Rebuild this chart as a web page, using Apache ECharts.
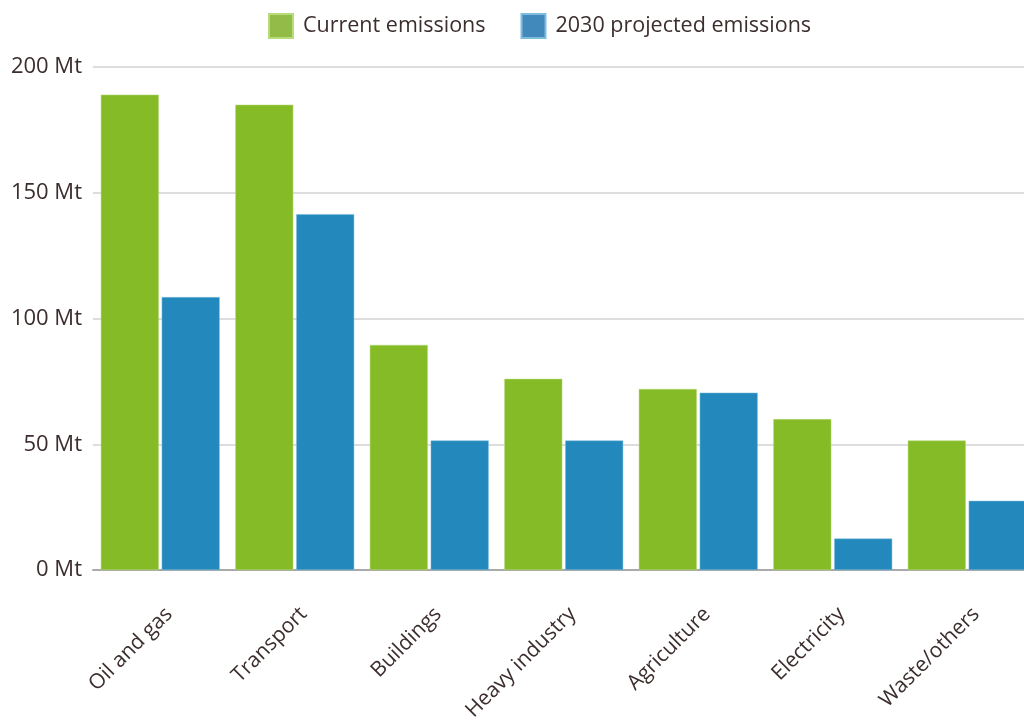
<!DOCTYPE html>
<html>
<head>
<meta charset="utf-8">
<script src="https://cdn.jsdelivr.net/npm/echarts@6/dist/echarts.min.js"></script>
<style>
  html, body { margin: 0; padding: 0; background: #fff; }
  #chart { width: 1024px; height: 722px; }
</style>
</head>
<body>
<div id="chart"></div>
<script>
const categories = ['Oil and gas', 'Transport', 'Buildings', 'Heavy industry', 'Agriculture', 'Electricity', 'Waste/others'];
const currentEmissions = [189, 185, 89.5, 76, 72, 60, 51.5];
const projectedEmissions = [108.5, 141.5, 51.5, 51.5, 70.5, 12.5, 27.5];
const seriesNames = ['Current emissions', '2030 projected emissions'];
const yTicks = [0, 50, 100, 150, 200];

const textColor = '#3d2e2e';
const font = '"Open Sans", sans-serif';

const chart = echarts.init(document.getElementById('chart'));
chart.setOption({
  animation: false,
  textStyle: { fontFamily: font, color: textColor },
  legend: {
    top: 8,
    left: 263,
    itemWidth: 24,
    itemHeight: 24,
    itemGap: 35,
    icon: 'rect',
    textStyle: { fontFamily: font, fontSize: 21.5, color: textColor, padding: [0, 0, 0, 5] },
    data: [
      { name: seriesNames[0], itemStyle: { color: '#93bb47' } },
      { name: seriesNames[1], itemStyle: { color: '#4189bb' } }
    ]
  },
  grid: { left: 93, right: -10.5, top: 67, bottom: 152, outerBoundsMode: 'none' },
  xAxis: {
    type: 'category',
    data: categories,
    axisTick: { show: false },
    axisLine: { lineStyle: { color: '#aaaaaa', width: 2 } },
    axisLabel: {
      rotate: 45,
      margin: 32,
      fontSize: 21,
      fontFamily: font,
      color: textColor,
      verticalAlign: 'top',
      padding: [2, 0, 0, 0],
      interval: 0
    }
  },
  yAxis: {
    type: 'value',
    min: yTicks[0],
    max: yTicks[yTicks.length - 1],
    interval: 50,
    axisLine: { show: false },
    axisTick: { show: false },
    splitLine: { lineStyle: { color: '#dddddd', width: 2 } },
    axisLabel: {
      margin: 11,
      fontSize: 22,
      fontFamily: font,
      color: textColor,
      formatter: v => v + ' Mt'
    }
  },
  series: [
    {
      name: seriesNames[0],
      type: 'bar',
      data: currentEmissions,
      barWidth: 58,
      barGap: '5%',
      itemStyle: { color: '#86bb28', borderColor: '#b9dc7a', borderWidth: 0.5 }
    },
    {
      name: seriesNames[1],
      type: 'bar',
      data: projectedEmissions,
      barWidth: 58,
      itemStyle: { color: '#2389bd', borderColor: '#7fbde0', borderWidth: 0.5 }
    }
  ]
});
</script>
</body>
</html>
